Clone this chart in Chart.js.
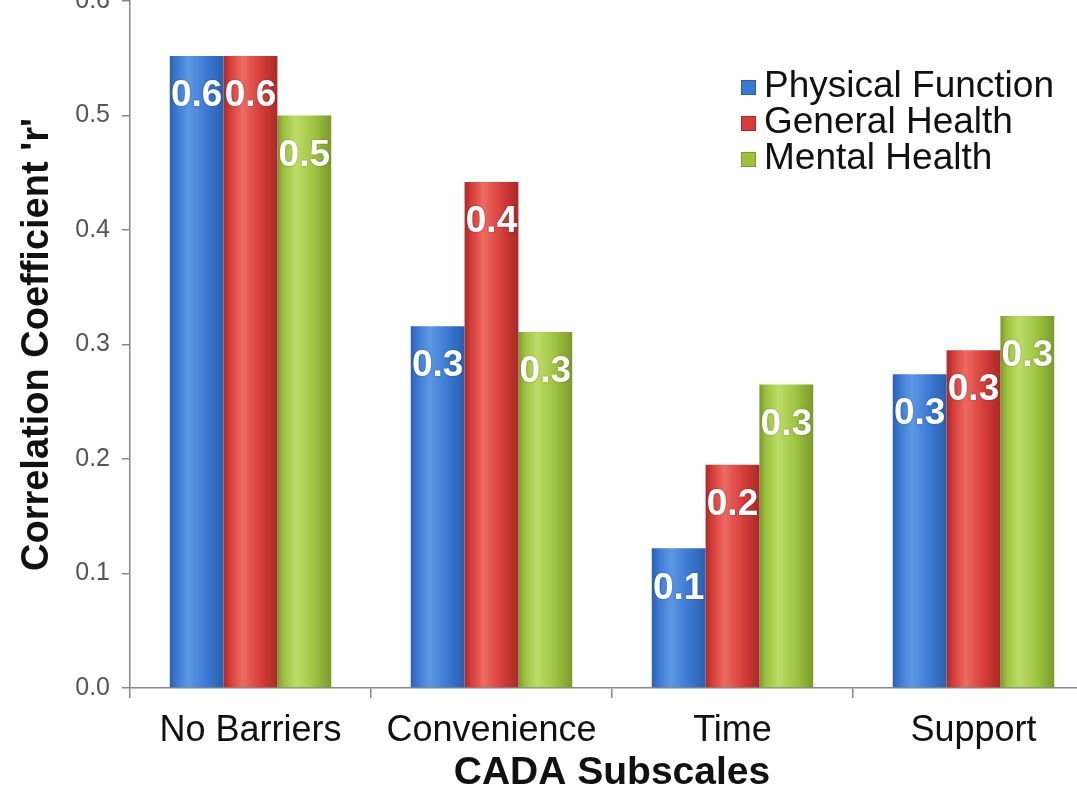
<!DOCTYPE html>
<html>
<head>
<meta charset="utf-8">
<script src="https://cdn.jsdelivr.net/npm/chart.js@4"></script>
<style>
  html, body { margin: 0; padding: 0; background: #fff; overflow: hidden; }
  #wrap { position: absolute; left: 0; top: -26px; width: 1096px; height: 819px; }
</style>
</head>
<body>
<div id="wrap"><canvas id="myChart"></canvas></div>
<script>
// values
const categories = ["No Barriers", "Convenience", "Time", "Support"];
const physicalFunction = [0.552, 0.316, 0.122, 0.274];
const generalHealth = [0.552, 0.442, 0.195, 0.295];
const mentalHealth = [0.500, 0.311, 0.265, 0.325];
const yTicks = [0.0, 0.1, 0.2, 0.3, 0.4, 0.5, 0.6];

const TOP = 26; // canvas is shifted up so the top tick label is cut like the original

// colours: [edge, light, base]
const shades = {
  "Physical Function": ["#2a5fae", "#5d97e6", "#3b78d2"],
  "General Health": ["#a82a28", "#ec6a62", "#d63c38"],
  "Mental Health": ["#7a9a2c", "#bedc68", "#9cc23e"]
};

const barShading = {
  id: "barShading",
  beforeDatasetsDraw(chart) {
    const ctx = chart.ctx;
    chart.data.datasets.forEach((ds, i) => {
      const s = shades[ds.label];
      chart.getDatasetMeta(i).data.forEach(el => {
        const l = el.x - el.width / 2, r = el.x + el.width / 2;
        const g = ctx.createLinearGradient(l, 0, r, 0);
        g.addColorStop(0, s[0]);
        g.addColorStop(0.12, s[2]);
        g.addColorStop(0.35, s[1]);
        g.addColorStop(0.7, s[2]);
        g.addColorStop(1, s[0]);
        el.options = Object.assign({}, el.options, {backgroundColor: g});
      });
    });
  },
  afterDatasetsDraw(chart) {
    const ctx = chart.ctx;
    ctx.save();
    ctx.font = "bold 37px 'Liberation Sans', Arial, sans-serif";
    ctx.fillStyle = "#fff";
    ctx.textAlign = "center";
    ctx.textBaseline = "middle";
    ctx.shadowColor = "rgba(0,0,0,0.35)";
    ctx.shadowBlur = 2;
    chart.data.datasets.forEach((ds, i) => {
      chart.getDatasetMeta(i).data.forEach((el, j) => {
        ctx.fillText(ds.data[j].toFixed(1), el.x, el.y + 40);
      });
    });
    ctx.restore();
  }
};

const cornerLegend = {
  id: "cornerLegend",
  afterDraw(chart) {
    const ctx = chart.ctx;
    ctx.save();
    ctx.font = "37px 'Liberation Sans', Arial, sans-serif";
    ctx.textBaseline = "middle";
    chart.data.datasets.forEach((ds, i) => {
      const y = 87 + TOP + i * 36;
      const s = shades[ds.label];
      ctx.fillStyle = s[2];
      ctx.fillRect(741, y - 7, 15, 15);
      ctx.strokeStyle = s[0];
      ctx.lineWidth = 1;
      ctx.strokeRect(741.5, y - 6.5, 14, 14);
      ctx.fillStyle = "#111";
      ctx.fillText(ds.label, 764, y);
    });
    ctx.restore();
  }
};

new Chart("myChart", {
  type: "bar",
  data: {
    labels: categories,
    datasets: [
      {label: "Physical Function", data: physicalFunction, backgroundColor: shades["Physical Function"][2]},
      {label: "General Health", data: generalHealth, backgroundColor: shades["General Health"][2]},
      {label: "Mental Health", data: mentalHealth, backgroundColor: shades["Mental Health"][2]}
    ]
  },
  options: {
    responsive: true,
    maintainAspectRatio: false,
    animation: false,
    layout: {padding: {left: 0, right: 2, top: 0, bottom: 0}},
    datasets: {bar: {categoryPercentage: 0.67, barPercentage: 1.0}},
    plugins: {
      legend: {display: false},
      tooltip: {enabled: false}
    },
    scales: {
      x: {
        grid: {display: true, drawOnChartArea: false, offset: true, tickLength: 10, color: "#888", lineWidth: 1.5},
        border: {color: "#888", width: 1.5},
        ticks: {color: "#111", padding: 11, font: {family: "'Liberation Sans', Arial, sans-serif", size: 36}},
        title: {display: true, text: "CADA Subscales", color: "#111", padding: 0,
          font: {family: "'Liberation Sans', Arial, sans-serif", size: 39, weight: "bold", lineHeight: 1}},
        afterFit(scale) { scale.height = 105; }
      },
      y: {
        min: 0, max: 0.6,
        afterBuildTicks(scale) { scale.ticks = yTicks.map(v => ({value: v})); },
        grid: {display: true, drawOnChartArea: false, tickLength: 8, color: "#888", lineWidth: 1.5},
        border: {color: "#888", width: 1.5},
        ticks: {color: "#555", padding: 12, callback: v => v.toFixed(1),
          font: {family: "'Liberation Sans', Arial, sans-serif", size: 25}},
        title: {display: true, text: "Correlation Coefficient 'r'", color: "#111", padding: {top: 19, bottom: 0},
          font: {family: "'Liberation Sans', Arial, sans-serif", size: 38, weight: "bold", lineHeight: 1}},
        afterFit(scale) { scale.width = 130; }
      }
    }
  },
  plugins: [barShading, cornerLegend]
});
</script>
</body>
</html>
